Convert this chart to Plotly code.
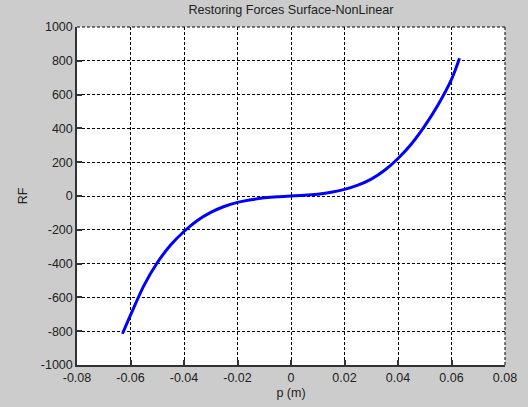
import plotly.graph_objects as go

# Data
p_values = [-0.063, -0.060, -0.055, -0.050, -0.045, -0.040, -0.035, -0.030, -0.025,
            -0.020, -0.015, -0.010, -0.005, 0.000, 0.005, 0.010, 0.015, 0.020,
            0.025, 0.030, 0.035, 0.040, 0.045, 0.050, 0.055, 0.060, 0.063]
rf_values = [-815, -705, -530, -395, -290, -210, -145, -97, -62,
             -38, -22, -11, -4, 0, 4, 11, 22, 39,
             64, 100, 152, 222, 308, 415, 540, 690, 815]

x_ticks = [-0.08, -0.06, -0.04, -0.02, 0, 0.02, 0.04, 0.06, 0.08]
x_tick_labels = ["-0.08", "-0.06", "-0.04", "-0.02", "0", "0.02", "0.04", "0.06", "0.08"]
y_ticks = [-1000, -800, -600, -400, -200, 0, 200, 400, 600, 800, 1000]
y_tick_labels = [str(v) for v in y_ticks]

title_text = "Restoring Forces Surface-NonLinear"
x_label = "p (m)"
y_label = "RF"

FONT = "Liberation Sans, Arial, sans-serif"
GRAY = "#cccccc"
TEXT = "#222222"

fig = go.Figure()
fig.add_trace(go.Scatter(
    x=p_values, y=rf_values, mode="lines",
    line=dict(color="#0000ff", width=3, shape="spline", smoothing=0.8),
    showlegend=False, hoverinfo="skip",
))

axis_common = dict(
    showgrid=True, gridcolor="#000000", gridwidth=1, griddash="3px,2px",
    zeroline=False, showline=True, linecolor="#333333", linewidth=1.5,
    ticks="inside", ticklen=5, tickcolor="#333333", tickwidth=1.5,
    tickfont=dict(family=FONT, size=12.5, color=TEXT),
    automargin=False,
)

fig.update_layout(
    width=528, height=407,
    paper_bgcolor=GRAY, plot_bgcolor="#ffffff",
    margin=dict(l=77, r=23, t=27, b=42),
    title=dict(text=title_text, x=0.5, xref="paper", xanchor="center",
               y=1, yref="container", yanchor="top", pad=dict(t=5),
               font=dict(family=FONT, size=12.6, color=TEXT)),
    xaxis=dict(range=[-0.08, 0.08], tickvals=x_ticks, ticktext=x_tick_labels,
               title=dict(text=x_label, standoff=4,
                          font=dict(family=FONT, size=12.5, color=TEXT)),
               **axis_common),
    yaxis=dict(range=[-1000, 1000], tickvals=y_ticks, ticktext=y_tick_labels,
               title=dict(text=y_label, standoff=10,
                          font=dict(family=FONT, size=12.5, color=TEXT)),
               **axis_common),
    shapes=[
        dict(type="line", xref="paper", yref="paper", x0=0, x1=1, y0=1, y1=1,
             line=dict(color="#000000", width=1, dash="3px,2px"), layer="below"),
        dict(type="line", xref="paper", yref="paper", x0=1, x1=1, y0=0, y1=1,
             line=dict(color="#000000", width=1, dash="3px,2px"), layer="below"),
    ],
)

fig.write_html("out.html", config={"displayModeBar": False},
               post_script="document.body.style.margin='0';")
